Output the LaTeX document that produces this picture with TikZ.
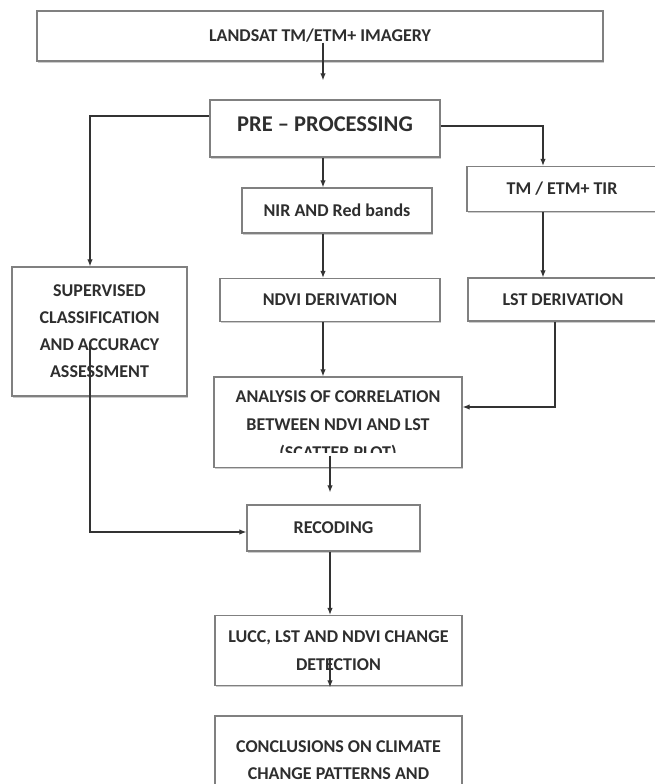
\documentclass[tikz,border=0pt]{standalone}
\usepackage{fontspec}
\setmainfont{Carlito}
\usetikzlibrary{arrows.meta,shadows,calc}
\definecolor{txt}{HTML}{2E2E2E}
\definecolor{boxline}{HTML}{808080}
\begin{document}
\begin{tikzpicture}[x=1pt,y=-1pt,
  box/.style={draw=boxline, line width=1.4pt, fill=white, rectangle, inner sep=0pt,
    align=center, text=txt, font=\bfseries\fontsize{18}{27}\selectfont,
    drop shadow={shadow xshift=1pt, shadow yshift=-1.6pt, opacity=0.4}},
  boxtext/.style={align=center, text=txt, inner sep=0pt, font=\bfseries\fontsize{18}{28}\selectfont},
  arr/.style={draw=black!80, line width=1.1pt, -{Latex[length=7pt,width=5.5pt]}}]
\useasboundingbox[fill=white] (0,0) rectangle (655,784);

\node[box, minimum width=566pt, minimum height=50pt] (land) at (320,36) {\raisebox{1.5pt}{LANDSAT TM/ETM+ IMAGERY}};
\node[box, minimum width=230pt, minimum height=57pt, font=\bfseries\fontsize{22.5}{26}\selectfont] (pre) at (325,128.5) {\raisebox{8pt}{PRE -- PROCESSING}};
\node[box, minimum width=190pt, minimum height=45pt] (tir) at (562,189) {TM / ETM+ TIR};
\node[box, minimum width=190pt, minimum height=45pt] (nir) at (337,210.5) {NIR AND Red bands};
\node[box, minimum width=220pt, minimum height=43pt] (ndvi) at (330,300) {NDVI DERIVATION};
\node[box, minimum width=190pt, minimum height=43pt] (lst) at (563,299.5) {LST DERIVATION};
\node[box, minimum width=175pt, minimum height=129pt] (sup) at (99.5,331.5) {SUPERVISED\\CLASSIFICATION\\AND ACCURACY\\ASSESSMENT};
\node[box, minimum width=248pt, minimum height=90pt,
  label={[boxtext, yshift=-4pt]center:{ANALYSIS OF CORRELATION\\BETWEEN NDVI AND LST\\(SCATTER PLOT)}}] (ana) at (338,422) {};
\fill[white] ([xshift=2pt,yshift=1pt]ana.south west) rectangle ([xshift=-2pt,yshift=15pt]ana.south east);
\node[box, minimum width=173pt, minimum height=46pt] (rec) at (333.5,528) {RECODING};
\node[box, minimum width=247pt, minimum height=70pt, font=\bfseries\fontsize{18}{28}\selectfont] (lucc) at (338.5,650.5) {LUCC, LST AND NDVI CHANGE\\DETECTION};
\node[box, minimum width=247pt, minimum height=89pt, font=\bfseries\fontsize{18}{27}\selectfont] (conc) at (338.5,760.5) {CONCLUSIONS ON CLIMATE\\CHANGE PATTERNS AND};

\draw[arr] ([xshift=3pt,yshift=19pt]land.south) -- ([xshift=3pt,yshift=19pt]land.south |- pre.north);
\draw[arr] ([yshift=12.5pt]pre.west) -| ([xshift=-9.5pt]sup.north);
\draw[arr] ([yshift=2.5pt]pre.east) -| ([xshift=-19pt]tir.north);
\draw[arr] ([xshift=-2pt]pre.south) -- ([xshift=-2pt]pre.south |- nir.north);
\draw[arr] ([xshift=-14pt]nir.south) -- ([xshift=-14pt]nir.south |- ndvi.north);
\draw[arr] ([xshift=-19pt]tir.south) -- ([xshift=-19pt]tir.south |- lst.north);
\draw[arr] ([xshift=-7pt]ndvi.south) -- ([xshift=-7pt]ndvi.south |- ana.north);
\draw[arr] ([xshift=-8pt]lst.south) |- ([yshift=15pt]ana.east);
\draw[arr] ([xshift=-9.5pt,yshift=-13pt]sup.center) |- ([yshift=-4pt]rec.west);
\draw[arr] ([xshift=-8pt,yshift=12pt]ana.south) -- ([xshift=-8pt,yshift=12pt]ana.south |- rec.north);
\draw[arr] ([xshift=-3.5pt]rec.south) -- ([xshift=-3.5pt]rec.south |- lucc.north);
\draw[arr] ([xshift=-8.5pt,yshift=28pt]lucc.south) -- ([xshift=-8.5pt,yshift=28pt]lucc.south |- conc.north);
\end{tikzpicture}
\end{document}
